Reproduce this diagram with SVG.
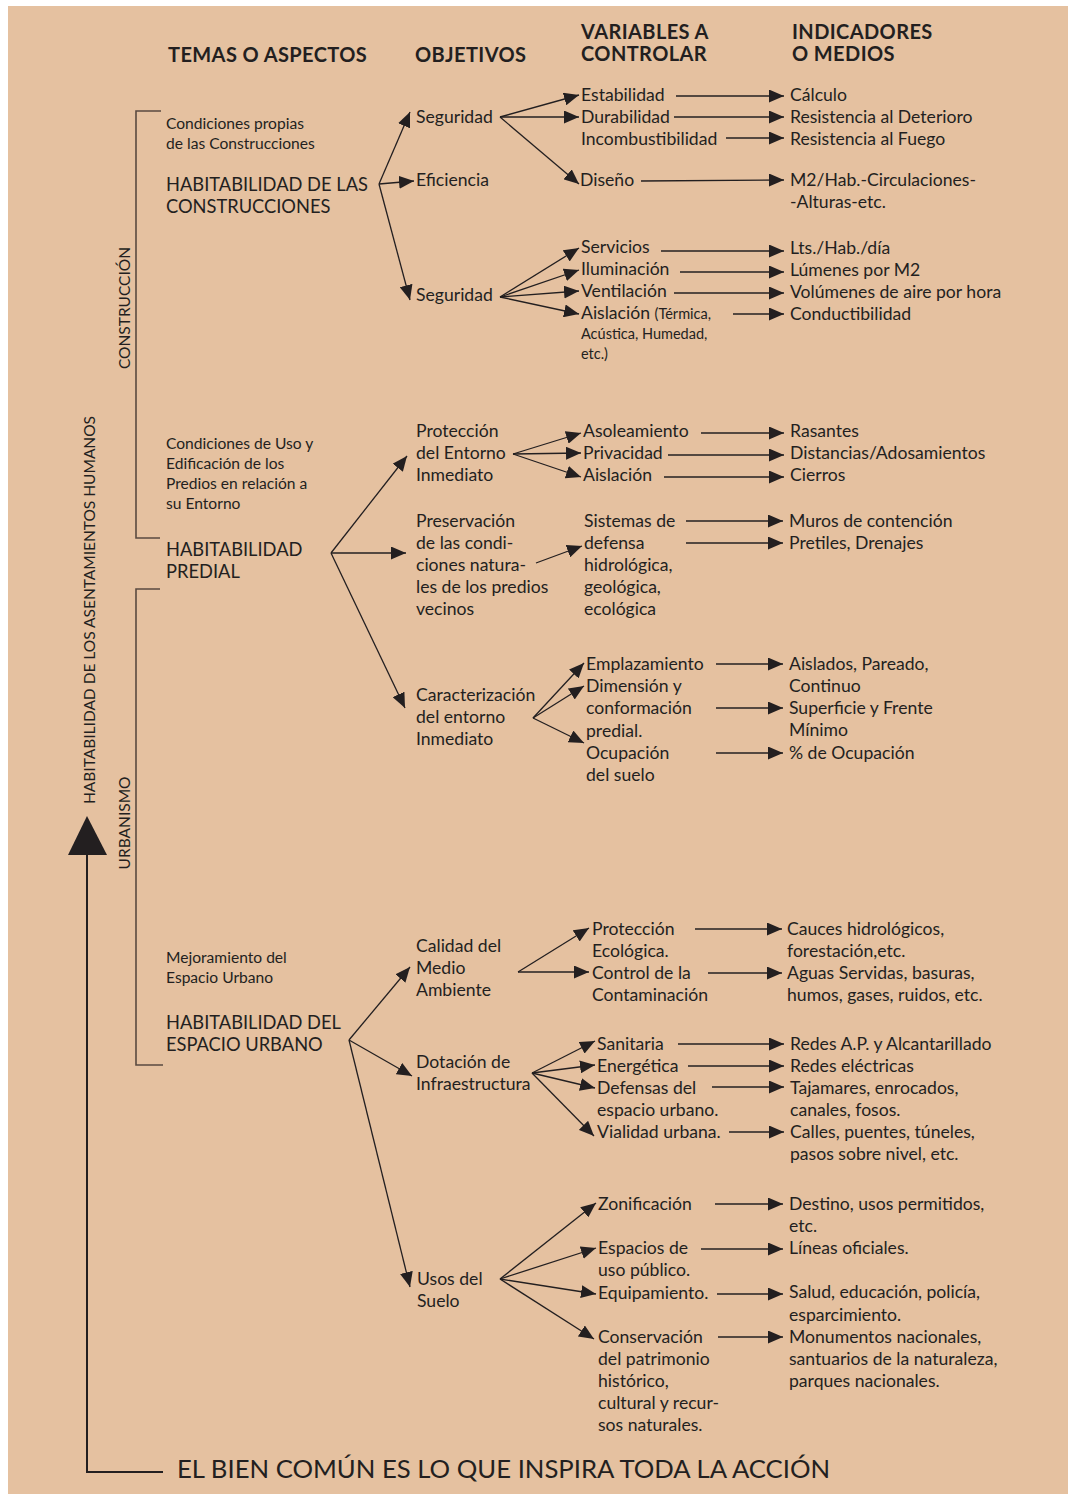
<svg xmlns="http://www.w3.org/2000/svg" width="1072" height="1494" viewBox="0 0 1072 1494">
  <style>
    text { font-family: Lato, "Liberation Sans", sans-serif; fill: #231f20; }
    .h { font-size: 20px; font-weight: bold; letter-spacing: 0.4px; }
    .t { font-size: 17.6px; }
    .s { font-size: 15.6px; }
    .m { font-size: 18.3px; }
    .v { font-size: 15.5px; }
    .big { font-size: 25.7px; }
    .c { fill: none; stroke: #231f20; stroke-width: 1.3; }
    .br { fill: none; stroke: #5a4a40; stroke-width: 1.6; }
  </style>
  <defs>
    <marker id="ah" markerUnits="userSpaceOnUse" markerWidth="16" markerHeight="13" refX="15" refY="6.5" orient="auto">
      <path d="M0,0 L15,6.5 L0,13 z" fill="#231f20"/>
    </marker>
  </defs>

  <rect x="8" y="6" width="1060" height="1488" fill="#e5c1a0"/>

  <!-- column headings -->
  <g id="headings">
    <text class="h" x="168" y="62">TEMAS O ASPECTOS</text>
    <text class="h" x="415" y="62">OBJETIVOS</text>
    <text class="h" x="581" y="39">VARIABLES A</text>
    <text class="h" x="581" y="61">CONTROLAR</text>
    <text class="h" x="792" y="39">INDICADORES</text>
    <text class="h" x="792" y="61">O MEDIOS</text>
  </g>

  <!-- side brackets and vertical labels -->
  <g id="scope-construccion">
    <path class="br" d="M161,111 H136 V538 H160"/>
    <text class="v" transform="translate(130,308) rotate(-90)" text-anchor="middle">CONSTRUCCIÓN</text>
  </g>
  <g id="scope-urbanismo">
    <path class="br" d="M160,589 H136 V1065 H163"/>
    <text class="v" transform="translate(130,823) rotate(-90)" text-anchor="middle">URBANISMO</text>
  </g>
  <g id="main-axis">
    <path d="M163,1472 H87 V852" fill="none" stroke="#231f20" stroke-width="2"/>
    <path d="M87,816 L107,855 L68,855 z" fill="#231f20"/>
    <text class="v" transform="translate(95,610) rotate(-90)" text-anchor="middle">HABITABILIDAD DE LOS ASENTAMIENTOS HUMANOS</text>
    <text class="big" x="177" y="1478">EL BIEN COMÚN ES LO QUE INSPIRA TODA LA ACCIÓN</text>
  </g>

  <!-- themes -->
  <g id="tema-construcciones">
    <text class="s" x="166" y="129">Condiciones propias</text>
    <text class="s" x="166" y="149">de las Construcciones</text>
    <text class="m" x="166" y="191">HABITABILIDAD DE LAS</text>
    <text class="m" x="166" y="213">CONSTRUCCIONES</text>
  </g>
  <g id="tema-predial">
    <text class="s" x="166" y="449">Condiciones de Uso y</text>
    <text class="s" x="166" y="469">Edificación de los</text>
    <text class="s" x="166" y="489">Predios en relación a</text>
    <text class="s" x="166" y="509">su Entorno</text>
    <text class="m" x="166" y="556">HABITABILIDAD</text>
    <text class="m" x="166" y="578">PREDIAL</text>
  </g>
  <g id="tema-urbano">
    <text class="s" x="166" y="963">Mejoramiento del</text>
    <text class="s" x="166" y="983">Espacio Urbano</text>
    <text class="m" x="166" y="1029">HABITABILIDAD DEL</text>
    <text class="m" x="166" y="1051">ESPACIO URBANO</text>
  </g>

  <!-- objectives -->
  <g id="obj-seguridad-1"><text class="t" x="416" y="123">Seguridad</text></g>
  <g id="obj-eficiencia"><text class="t" x="416" y="186">Eficiencia</text></g>
  <g id="obj-seguridad-2"><text class="t" x="416" y="301">Seguridad</text></g>
  <g id="obj-proteccion-entorno">
    <text class="t" x="416" y="437">Protección</text>
    <text class="t" x="416" y="459">del Entorno</text>
    <text class="t" x="416" y="481">Inmediato</text>
  </g>
  <g id="obj-preservacion">
    <text class="t" x="416" y="527">Preservación</text>
    <text class="t" x="416" y="549">de las condi-</text>
    <text class="t" x="416" y="571">ciones natura-</text>
    <text class="t" x="416" y="593">les de los predios</text>
    <text class="t" x="416" y="615">vecinos</text>
  </g>
  <g id="obj-caracterizacion">
    <text class="t" x="416" y="701">Caracterización</text>
    <text class="t" x="416" y="723">del entorno</text>
    <text class="t" x="416" y="745">Inmediato</text>
  </g>
  <g id="obj-calidad">
    <text class="t" x="416" y="952">Calidad del</text>
    <text class="t" x="416" y="974">Medio</text>
    <text class="t" x="416" y="996">Ambiente</text>
  </g>
  <g id="obj-dotacion">
    <text class="t" x="416" y="1068">Dotación de</text>
    <text class="t" x="416" y="1090">Infraestructura</text>
  </g>
  <g id="obj-usos">
    <text class="t" x="417" y="1285">Usos del</text>
    <text class="t" x="417" y="1307">Suelo</text>
  </g>

  <!-- variables -->
  <g id="var-estabilidad"><text class="t" x="581" y="101">Estabilidad</text></g>
  <g id="var-durabilidad"><text class="t" x="581" y="123">Durabilidad</text></g>
  <g id="var-incombustibilidad"><text class="t" x="581" y="145">Incombustibilidad</text></g>
  <g id="var-diseno"><text class="t" x="580" y="186">Diseño</text></g>
  <g id="var-servicios"><text class="t" x="581" y="253">Servicios</text></g>
  <g id="var-iluminacion"><text class="t" x="581" y="275">Iluminación</text></g>
  <g id="var-ventilacion"><text class="t" x="581" y="297">Ventilación</text></g>
  <g id="var-aislacion-1">
    <text class="t" x="581" y="319">Aislación <tspan style="font-size:14.5px">(Térmica,</tspan></text>
    <text x="581" y="339" style="font-size:14.5px">Acústica, Humedad,</text>
    <text x="581" y="359" style="font-size:14.5px">etc.)</text>
  </g>
  <g id="var-asoleamiento"><text class="t" x="583" y="437">Asoleamiento</text></g>
  <g id="var-privacidad"><text class="t" x="583" y="459">Privacidad</text></g>
  <g id="var-aislacion-2"><text class="t" x="583" y="481">Aislación</text></g>
  <g id="var-sistemas">
    <text class="t" x="584" y="527">Sistemas de</text>
    <text class="t" x="584" y="549">defensa</text>
    <text class="t" x="584" y="571">hidrológica,</text>
    <text class="t" x="584" y="593">geológica,</text>
    <text class="t" x="584" y="615">ecológica</text>
  </g>
  <g id="var-emplazamiento"><text class="t" x="586" y="670">Emplazamiento</text></g>
  <g id="var-dimension">
    <text class="t" x="586" y="692">Dimensión y</text>
    <text class="t" x="586" y="714">conformación</text>
    <text class="t" x="586" y="737">predial.</text>
  </g>
  <g id="var-ocupacion">
    <text class="t" x="586" y="759">Ocupación</text>
    <text class="t" x="586" y="781">del suelo</text>
  </g>
  <g id="var-proteccion-eco">
    <text class="t" x="592" y="935">Protección</text>
    <text class="t" x="592" y="957">Ecológica.</text>
  </g>
  <g id="var-control">
    <text class="t" x="592" y="979">Control de la</text>
    <text class="t" x="592" y="1001">Contaminación</text>
  </g>
  <g id="var-sanitaria"><text class="t" x="597" y="1050">Sanitaria</text></g>
  <g id="var-energetica"><text class="t" x="597" y="1072">Energética</text></g>
  <g id="var-defensas">
    <text class="t" x="597" y="1094">Defensas del</text>
    <text class="t" x="597" y="1116">espacio urbano.</text>
  </g>
  <g id="var-vialidad"><text class="t" x="597" y="1138">Vialidad urbana.</text></g>
  <g id="var-zonificacion"><text class="t" x="598" y="1210">Zonificación</text></g>
  <g id="var-espacios">
    <text class="t" x="598" y="1254">Espacios de</text>
    <text class="t" x="598" y="1276">uso público.</text>
  </g>
  <g id="var-equipamiento"><text class="t" x="598" y="1299">Equipamiento.</text></g>
  <g id="var-conservacion">
    <text class="t" x="598" y="1343">Conservación</text>
    <text class="t" x="598" y="1365">del patrimonio</text>
    <text class="t" x="598" y="1387">histórico,</text>
    <text class="t" x="598" y="1409">cultural y recur-</text>
    <text class="t" x="598" y="1431">sos naturales.</text>
  </g>

  <!-- indicators -->
  <g id="ind-calculo"><text class="t" x="790" y="101">Cálculo</text></g>
  <g id="ind-deterioro"><text class="t" x="790" y="123">Resistencia al Deterioro</text></g>
  <g id="ind-fuego"><text class="t" x="790" y="145">Resistencia al Fuego</text></g>
  <g id="ind-m2">
    <text class="t" x="790" y="186">M2/Hab.-Circulaciones-</text>
    <text class="t" x="790" y="208">-Alturas-etc.</text>
  </g>
  <g id="ind-lts"><text class="t" x="790" y="254">Lts./Hab./día</text></g>
  <g id="ind-lumenes"><text class="t" x="790" y="276">Lúmenes por M2</text></g>
  <g id="ind-volumenes"><text class="t" x="790" y="298">Volúmenes de aire por hora</text></g>
  <g id="ind-conductibilidad"><text class="t" x="790" y="320">Conductibilidad</text></g>
  <g id="ind-rasantes"><text class="t" x="790" y="437">Rasantes</text></g>
  <g id="ind-distancias"><text class="t" x="790" y="459">Distancias/Adosamientos</text></g>
  <g id="ind-cierros"><text class="t" x="790" y="481">Cierros</text></g>
  <g id="ind-muros"><text class="t" x="789" y="527">Muros de contención</text></g>
  <g id="ind-pretiles"><text class="t" x="789" y="549">Pretiles, Drenajes</text></g>
  <g id="ind-aislados">
    <text class="t" x="789" y="670">Aislados, Pareado,</text>
    <text class="t" x="789" y="692">Continuo</text>
  </g>
  <g id="ind-superficie">
    <text class="t" x="789" y="714">Superficie y Frente</text>
    <text class="t" x="789" y="736">Mínimo</text>
  </g>
  <g id="ind-porcentaje"><text class="t" x="789" y="759">% de Ocupación</text></g>
  <g id="ind-cauces">
    <text class="t" x="787" y="935">Cauces hidrológicos,</text>
    <text class="t" x="787" y="957">forestación,etc.</text>
  </g>
  <g id="ind-aguas">
    <text class="t" x="787" y="979">Aguas Servidas, basuras,</text>
    <text class="t" x="787" y="1001">humos, gases, ruidos, etc.</text>
  </g>
  <g id="ind-redes-ap"><text class="t" x="790" y="1050">Redes A.P. y Alcantarillado</text></g>
  <g id="ind-redes-el"><text class="t" x="790" y="1072">Redes eléctricas</text></g>
  <g id="ind-tajamares">
    <text class="t" x="790" y="1094">Tajamares, enrocados,</text>
    <text class="t" x="790" y="1116">canales, fosos.</text>
  </g>
  <g id="ind-calles">
    <text class="t" x="790" y="1138">Calles, puentes, túneles,</text>
    <text class="t" x="790" y="1160">pasos sobre nivel, etc.</text>
  </g>
  <g id="ind-destino">
    <text class="t" x="789" y="1210">Destino, usos permitidos,</text>
    <text class="t" x="789" y="1232">etc.</text>
  </g>
  <g id="ind-lineas"><text class="t" x="789" y="1254">Líneas oficiales.</text></g>
  <g id="ind-salud">
    <text class="t" x="789" y="1298">Salud, educación, policía,</text>
    <text class="t" x="789" y="1321">esparcimiento.</text>
  </g>
  <g id="ind-monumentos">
    <text class="t" x="789" y="1343">Monumentos nacionales,</text>
    <text class="t" x="789" y="1365">santuarios de la naturaleza,</text>
    <text class="t" x="789" y="1387">parques nacionales.</text>
  </g>

  <!-- connectors -->
  <g id="connectors" class="c" marker-end="url(#ah)">
    <!-- themes to objectives -->
    <line x1="379" y1="184" x2="410" y2="112"/>
    <line x1="379" y1="184" x2="414" y2="181"/>
    <line x1="379" y1="184" x2="410" y2="300"/>
    <line x1="331" y1="553" x2="407" y2="456"/>
    <line x1="331" y1="553" x2="406" y2="553"/>
    <line x1="331" y1="553" x2="405" y2="708"/>
    <line x1="349" y1="1040" x2="410" y2="967"/>
    <line x1="349" y1="1040" x2="412" y2="1076"/>
    <line x1="349" y1="1040" x2="410" y2="1287"/>

    <!-- objectives to variables -->
    <line x1="500" y1="117" x2="579" y2="95"/>
    <line x1="500" y1="117" x2="579" y2="117"/>
    <line x1="500" y1="117" x2="579" y2="184"/>
    <line x1="500" y1="297" x2="579" y2="248"/>
    <line x1="500" y1="297" x2="579" y2="270"/>
    <line x1="500" y1="297" x2="579" y2="291"/>
    <line x1="500" y1="297" x2="579" y2="314"/>
    <line x1="513" y1="454" x2="581" y2="433"/>
    <line x1="513" y1="454" x2="581" y2="453"/>
    <line x1="513" y1="454" x2="581" y2="477"/>
    <line x1="536" y1="563" x2="582" y2="546"/>
    <line x1="533" y1="718" x2="584" y2="663"/>
    <line x1="533" y1="718" x2="584" y2="686"/>
    <line x1="533" y1="718" x2="584" y2="743"/>
    <line x1="518" y1="972" x2="589" y2="928"/>
    <line x1="518" y1="972" x2="589" y2="972"/>
    <line x1="532" y1="1073" x2="595" y2="1041"/>
    <line x1="532" y1="1073" x2="595" y2="1065"/>
    <line x1="532" y1="1073" x2="595" y2="1088"/>
    <line x1="532" y1="1073" x2="594" y2="1136"/>
    <line x1="500" y1="1279" x2="596" y2="1203"/>
    <line x1="500" y1="1279" x2="596" y2="1248"/>
    <line x1="500" y1="1279" x2="596" y2="1294"/>
    <line x1="500" y1="1279" x2="594" y2="1339"/>

    <!-- variables to indicators -->
    <line x1="676" y1="96" x2="784" y2="96"/>
    <line x1="674" y1="117" x2="784" y2="117"/>
    <line x1="726" y1="138" x2="784" y2="138"/>
    <line x1="641" y1="181" x2="784" y2="180"/>
    <line x1="661" y1="251" x2="784" y2="251"/>
    <line x1="680" y1="272" x2="784" y2="272"/>
    <line x1="674" y1="293" x2="784" y2="293"/>
    <line x1="733" y1="314" x2="784" y2="314"/>
    <line x1="701" y1="433" x2="784" y2="433"/>
    <line x1="668" y1="455" x2="784" y2="455"/>
    <line x1="664" y1="477" x2="784" y2="477"/>
    <line x1="686" y1="521" x2="783" y2="521"/>
    <line x1="686" y1="543" x2="783" y2="543"/>
    <line x1="716" y1="664" x2="783" y2="664"/>
    <line x1="716" y1="708" x2="783" y2="708"/>
    <line x1="716" y1="753" x2="783" y2="753"/>
    <line x1="695" y1="929" x2="782" y2="929"/>
    <line x1="708" y1="973" x2="782" y2="973"/>
    <line x1="678" y1="1044" x2="784" y2="1044"/>
    <line x1="688" y1="1066" x2="784" y2="1066"/>
    <line x1="712" y1="1087" x2="784" y2="1087"/>
    <line x1="729" y1="1132" x2="784" y2="1132"/>
    <line x1="715" y1="1204" x2="783" y2="1204"/>
    <line x1="701" y1="1249" x2="783" y2="1249"/>
    <line x1="717" y1="1294" x2="783" y2="1294"/>
    <line x1="718" y1="1337" x2="783" y2="1337"/>
  </g>
</svg>
